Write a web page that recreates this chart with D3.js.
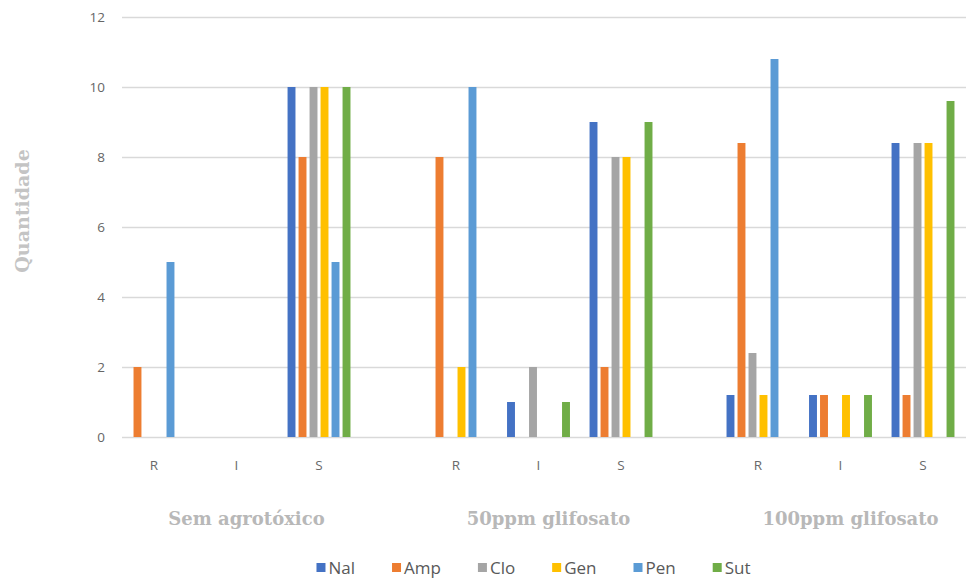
<!DOCTYPE html>
<html>
<head>
<meta charset="utf-8">
<script src="https://cdn.jsdelivr.net/npm/d3@7/dist/d3.min.js"></script>
<style>
  html, body { margin: 0; padding: 0; background: #ffffff; }
  svg { display: block; }
</style>
</head>
<body>
<svg id="chart" width="966" height="581"></svg>
<script>
// ---- data ----
const groups = ["Sem agrotóxico", "50ppm glifosato", "100ppm glifosato"];
const categories = ["R", "I", "S"];
const seriesNames = ["Nal", "Amp", "Clo", "Gen", "Pen", "Sut"];
const seriesColors = ["#4472C4", "#ED7D31", "#A5A5A5", "#FFC000", "#5B9BD5", "#70AD47"];
const yTicks = [0, 2, 4, 6, 8, 10, 12];
// values[group][category] = [Nal, Amp, Clo, Gen, Pen, Sut]
const semAgrotoxico = {
  R: [0, 2, 0, 0, 5, 0],
  I: [0, 0, 0, 0, 0, 0],
  S: [10, 8, 10, 10, 5, 10]
};
const ppm50 = {
  R: [0, 8, 0, 2, 10, 0],
  I: [1, 0, 2, 0, 0, 1],
  S: [9, 2, 8, 8, 0, 9]
};
const ppm100 = {
  R: [1.2, 8.4, 2.4, 1.2, 10.8, 0],
  I: [1.2, 1.2, 0, 1.2, 0, 1.2],
  S: [8.4, 1.2, 8.4, 8.4, 0, 9.6]
};
const groupValues = [semAgrotoxico, ppm50, ppm100];

// ---- layout ----
const svg = d3.select("#chart");
const plotLeft = 122, plotRight = 966, plotTop = 17, plotBottom = 437;
const groupStep = 302;
const firstGroupCenter = 236.5;

const y = d3.scaleLinear().domain([0, 12]).range([plotBottom, plotTop]);

const x0 = d3.scaleBand().domain(groups)
  .range([firstGroupCenter - groupStep / 2, firstGroupCenter - groupStep / 2 + groupStep * groups.length])
  .padding(0);
const x1 = d3.scaleBand().domain(categories).range([0, x0.bandwidth()])
  .paddingInner(0).paddingOuter(0.33);
const cw = x1.bandwidth();
const barsSpan = 66;
const x2 = d3.scaleBand().domain(seriesNames)
  .range([(cw - barsSpan) / 2, (cw + barsSpan) / 2])
  .paddingInner(0.28).paddingOuter(0.14);
const color = d3.scaleOrdinal().domain(seriesNames).range(seriesColors);

// gridlines + y tick labels
const yAxis = d3.axisLeft(y).tickValues(yTicks).tickSize(-(plotRight - plotLeft)).tickPadding(17)
  .tickFormat(d3.format("d"));
const gy = svg.append("g").attr("transform", `translate(${plotLeft},0)`).call(yAxis);
gy.select(".domain").remove();
gy.selectAll(".tick line").attr("stroke", "#d9d9d9").attr("stroke-width", 1.3);
gy.selectAll(".tick text").attr("fill", "#666666")
  .style("font-family", "'Open Sans', 'Noto Sans', sans-serif").style("font-size", "13.5px");

// y axis title
svg.append("text")
  .attr("transform", `translate(29,211) rotate(-90)`)
  .attr("text-anchor", "middle")
  .attr("fill", "#c4c4c4")
  .style("font-family", "'DejaVu Serif', 'Liberation Serif', serif")
  .style("font-weight", "bold")
  .style("font-size", "19px")
  .text("Quantidade");

// bars
const gGroups = svg.append("g").selectAll("g.grp")
  .data(groups.map((g, i) => ({ g, vals: groupValues[i] })))
  .join("g").attr("class", "grp")
  .attr("transform", d => `translate(${x0(d.g)},0)`);

const gCats = gGroups.selectAll("g.cat")
  .data(d => categories.map(c => ({ c, vals: d.vals[c] })))
  .join("g").attr("class", "cat")
  .attr("transform", d => `translate(${x1(d.c)},0)`);

gCats.selectAll("rect")
  .data(d => seriesNames.map((s, i) => ({ s, v: d.vals[i] })).filter(e => e.v > 0))
  .join("rect")
  .attr("x", d => x2(d.s))
  .attr("width", x2.bandwidth())
  .attr("y", d => y(d.v))
  .attr("height", d => y(0) - y(d.v))
  .attr("fill", d => color(d.s));

// category labels
gCats.append("text")
  .attr("x", cw / 2)
  .attr("y", plotBottom + 33)
  .attr("text-anchor", "middle")
  .attr("fill", "#6a6a6a")
  .style("font-family", "'Open Sans', 'Noto Sans', sans-serif")
  .style("font-size", "13.5px")
  .text(d => d.c);

// group labels
gGroups.append("text")
  .attr("x", x0.bandwidth() / 2 + 10)
  .attr("y", plotBottom + 88)
  .attr("text-anchor", "middle")
  .attr("fill", "#b8b8b8")
  .style("font-family", "'DejaVu Serif', 'Liberation Serif', serif")
  .style("font-weight", "bold")
  .style("font-size", "18px")
  .text(d => d.g);

// legend
const legend = svg.append("g").attr("transform", "translate(0,568)");
const items = legend.selectAll("g.li").data(seriesNames).join("g").attr("class", "li");
items.append("rect").attr("x", 0).attr("y", -5).attr("width", 9).attr("height", 9)
  .attr("fill", d => color(d));
items.append("text").attr("x", 12).attr("y", 6)
  .attr("fill", "#595959")
  .style("font-family", "'Open Sans', 'Noto Sans', sans-serif")
  .style("font-size", "17px")
  .text(d => d);
let widths = [];
items.each(function() { widths.push(this.getBBox().width); });
const gap = 37;
const total = d3.sum(widths) + gap * (widths.length - 1);
let cx = 533.5 - total / 2;
items.attr("transform", (d, i) => { const t = `translate(${cx},0)`; cx += widths[i] + gap; return t; });
</script>
</body>
</html>
